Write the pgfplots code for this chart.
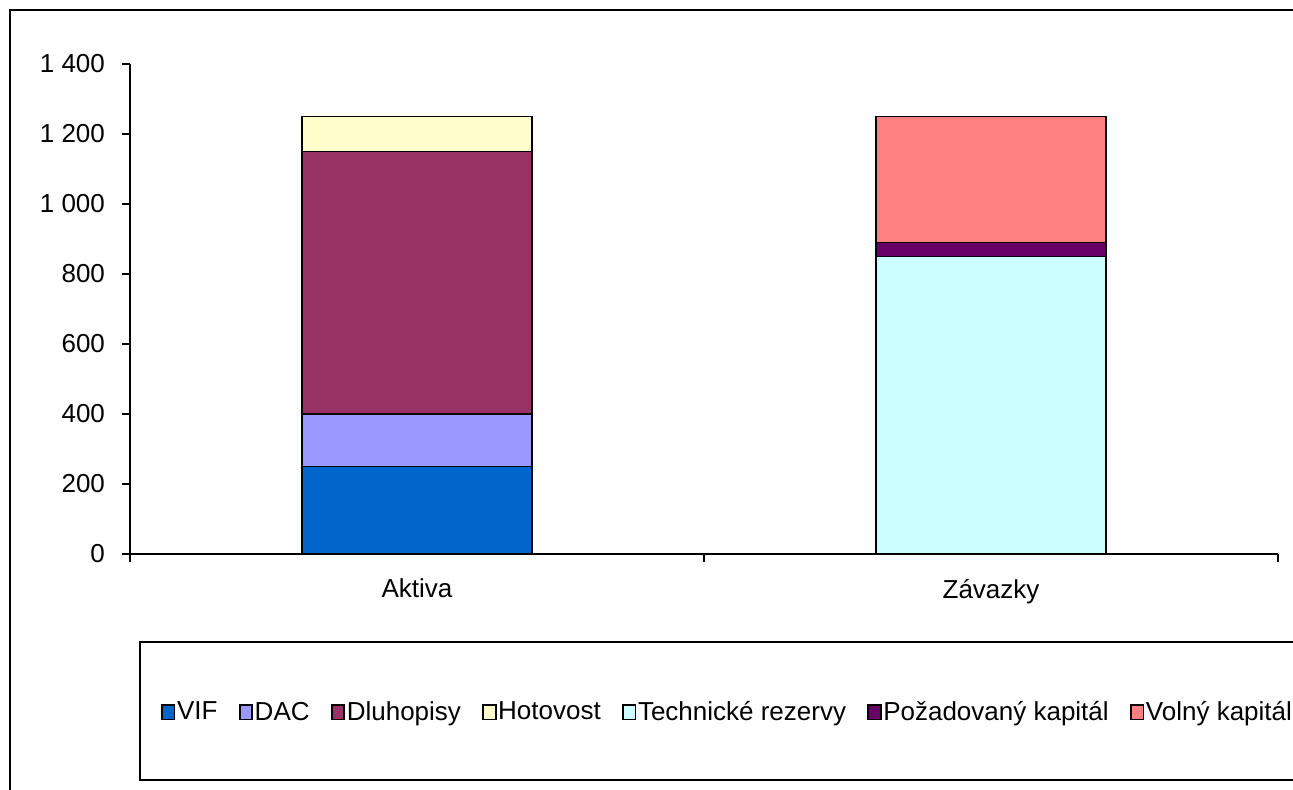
\documentclass[border=0pt]{standalone}
\usepackage{fontspec}
\setmainfont{Liberation Sans}
\usepackage{pgfplots}
\pgfplotsset{compat=1.18}
\definecolor{cVIF}{HTML}{0066CC}
\definecolor{cDAC}{HTML}{9999FF}
\definecolor{cDlu}{HTML}{993366}
\definecolor{cHot}{HTML}{FFFFCC}
\definecolor{cTech}{HTML}{CCFFFF}
\definecolor{cPoz}{HTML}{660066}
\definecolor{cVol}{HTML}{FF8080}
\begin{document}
\fontsize{13}{15}\selectfont
\begin{tikzpicture}
\useasboundingbox (0,0) rectangle (646.5pt,395pt);
\draw[line width=1pt] (5pt,-5pt) -- (5pt,390pt) -- (660pt,390pt);
\draw[line width=1pt] (70pt,5pt) rectangle (660pt,74pt);
\begin{axis}[
  scale only axis,
  width=574pt, height=245pt,
  anchor=south west, at={(65pt,118pt)},
  xmin=-0.5, xmax=1.5, ymin=0, ymax=1400,
  ybar stacked, bar width=115pt,
  axis x line=bottom, axis y line=left,
  axis line style={-, line width=1pt},
  xtick={-0.5,0.5,1.5}, xticklabels={},
  extra x ticks={0,1}, extra x tick labels={Aktiva,Závazky},
  extra x tick style={major tick length=0pt, xticklabel style={yshift=-8pt}},
  ytick={0,200,...,1400},
  tick align=outside, major tick length=4pt,
  tick style={line width=1pt, black},
  /pgf/number format/assume math mode=true,
  /pgf/number format/1000 sep={\ },
  yticklabel style={xshift=-4pt},
  legend columns=7,
  legend style={draw=none, fill=none, at={(axis description cs:0.0215,-0.3245)}, anchor=west,
    nodes={inner xsep=0.8pt},
    /tikz/every even column/.append style={column sep=9.8pt}},
  legend image code/.code={\draw[#1, line width=0.9pt] (0pt,-3.2pt) rectangle (6.3pt,3.9pt);},
]
\addplot[fill=cVIF, draw=black, line width=0.9pt] coordinates {(0,250) (1,0)};
\addplot[fill=cDAC, draw=black, line width=0.9pt] coordinates {(0,150) (1,0)};
\addplot[fill=cDlu, draw=black, line width=0.9pt] coordinates {(0,750) (1,0)};
\addplot[fill=cHot, draw=black, line width=0.9pt] coordinates {(0,100) (1,0)};
\addplot[fill=cTech, draw=black, line width=0.9pt] coordinates {(0,0) (1,850)};
\addplot[fill=cPoz, draw=black, line width=0.9pt] coordinates {(0,0) (1,40)};
\addplot[fill=cVol, draw=black, line width=0.9pt] coordinates {(0,0) (1,360)};
\legend{VIF,DAC,Dluhopisy,Hotovost,Technické rezervy,Požadovaný kapitál,Volný kapitál}
\end{axis}
\end{tikzpicture}
\end{document}
